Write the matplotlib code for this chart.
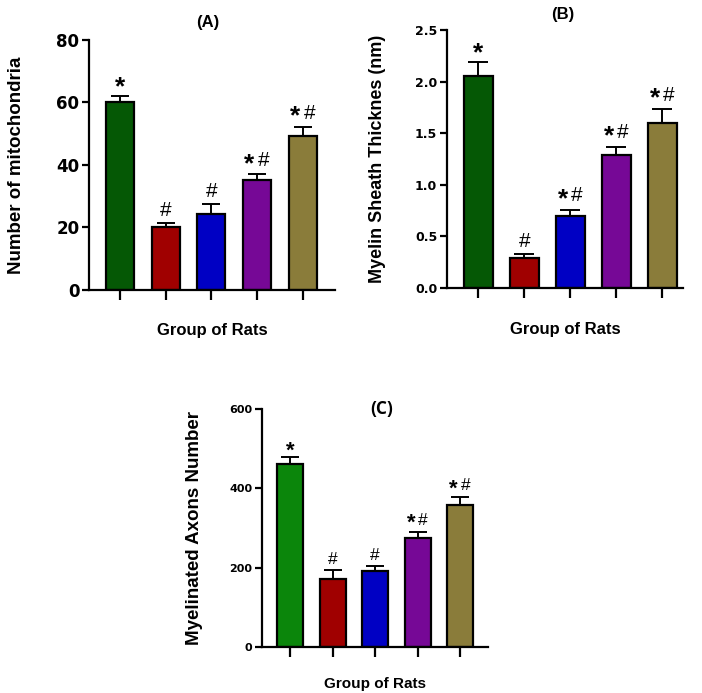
import matplotlib
matplotlib.use("Agg")
import matplotlib.pyplot as plt
import numpy as np

plt.rcParams['font.family'] = ['Liberation Sans', 'DejaVu Sans']

# data
mito_mean = [60.0, 20.1, 24.4, 35.1, 49.2]
mito_err = [2.1, 1.4, 3.1, 1.9, 3.0]
mito_marks = ["*", "#", "#", "*#", "*#"]

myelin_mean = [2.05, 0.29, 0.70, 1.285, 1.60]
myelin_err = [0.14, 0.04, 0.06, 0.085, 0.135]
myelin_marks = ["*", "#", "*#", "*#", "*#"]

axons_mean = [461, 171, 191, 276, 357]
axons_err = [17, 24, 13, 14, 20]
axons_marks = ["*", "#", "#", "*#", "*#"]

colors_ab = ["#055805", "#a00000", "#0000c4", "#760896", "#8a7c3a"]
colors_c = ["#0b860b", "#a00000", "#0000c4", "#760896", "#8a7c3a"]

W, H = 702, 693
fig = plt.figure(figsize=(W / 100, H / 100), dpi=100)


def px_axes(left, top, right, bottom):
    return fig.add_axes([left / W, 1 - bottom / H, (right - left) / W, (bottom - top) / H])


def draw_panel(ax, means, errs, marks, colors, ylim, yticks, yticklabels, ylabel,
               xlim, width, tick_fs, ylab_fs, xlab_fs, labelpad, star_fs, hash_fs):
    x = np.arange(len(means))
    ax.bar(x, means, width=width, color=colors, edgecolor="black", linewidth=1.6, zorder=2)
    ax.errorbar(x, means, yerr=[np.zeros(len(errs)), errs], fmt="none", ecolor="black",
                elinewidth=1.4, capsize=width * 11, capthick=1.4, zorder=1)
    k = star_fs / 19.0
    for xi, m, e, mk in zip(x, means, errs, marks):
        top = m + e
        if mk == "*":
            ax.annotate("*", (xi, top), xytext=(0, 1 * k), textcoords="offset points",
                        ha="center", va="baseline", fontsize=star_fs, fontweight="bold")
        elif mk == "#":
            ax.annotate("#", (xi, top), xytext=(0, 5 * k), textcoords="offset points",
                        ha="center", va="baseline", fontsize=hash_fs)
        else:
            ax.annotate("*", (xi, top), xytext=(-5.5 * k, 2.5 * k), textcoords="offset points",
                        ha="center", va="baseline", fontsize=star_fs, fontweight="bold")
            ax.annotate("#", (xi, top), xytext=(4.8 * k, 6 * k), textcoords="offset points",
                        ha="center", va="baseline", fontsize=hash_fs)
    ax.set_xlim(*xlim)
    ax.set_ylim(*ylim)
    ax.set_yticks(yticks)
    ax.set_yticklabels(yticklabels, fontweight="bold", fontsize=tick_fs,
                       family=["DejaVu Sans"])
    ax.set_xticks(x)
    ax.set_xticklabels([])
    for s in ["top", "right"]:
        ax.spines[s].set_visible(False)
    for s in ["left", "bottom"]:
        ax.spines[s].set_linewidth(1.6)
    ax.tick_params(axis="y", length=5, width=1.6, pad=2)
    ax.tick_params(axis="x", length=7, width=1.6)
    ax.set_ylabel(ylabel, fontsize=ylab_fs, fontweight="bold")
    ax.yaxis.set_label_coords(-0.26, 0.5)
    ax.set_xlabel("Group of Rats", fontsize=xlab_fs, fontweight="bold", labelpad=labelpad)


axA = px_axes(89, 40, 335, 290)
draw_panel(axA, mito_mean, mito_err, mito_marks, colors_ab,
           (0, 80), [0, 20, 40, 60, 80], ["0", "20", "40", "60", "80"],
           "Number of mitochondria", (-0.68, 4.71), 0.61, 12, 13.5, 12, 13, 19, 15)
fig.text(208 / W, 1 - 23 / H, "(A)", ha="center", va="center", fontsize=12, fontweight="bold")

axB = px_axes(447, 30, 683, 288)
draw_panel(axB, myelin_mean, myelin_err, myelin_marks, colors_ab,
           (0, 2.5), [0.0, 0.5, 1.0, 1.5, 2.0, 2.5], ["0.0", "0.5", "1.0", "1.5", "2.0", "2.5"],
           "Myelin Sheath Thicknes (nm)", (-0.68, 4.45), 0.63, 9, 13, 12, 14, 19, 15)
fig.text(563 / W, 1 - 15 / H, "(B)", ha="center", va="center", fontsize=12, fontweight="bold")

axC = px_axes(262, 409, 488, 647)
draw_panel(axC, axons_mean, axons_err, axons_marks, colors_c,
           (0, 600), [0, 200, 400, 600], ["0", "200", "400", "600"],
           "Myelinated Axons Number", (-0.67, 4.66), 0.61, 8, 13.5, 11, 11, 16, 12.5)
fig.text(382 / W, 1 - 409 / H, "(C)", ha="center", va="center", fontsize=12.5,
         fontweight="bold", family=["Open Sans", "DejaVu Sans"])

fig.savefig("out.png", dpi=100, facecolor="white")
